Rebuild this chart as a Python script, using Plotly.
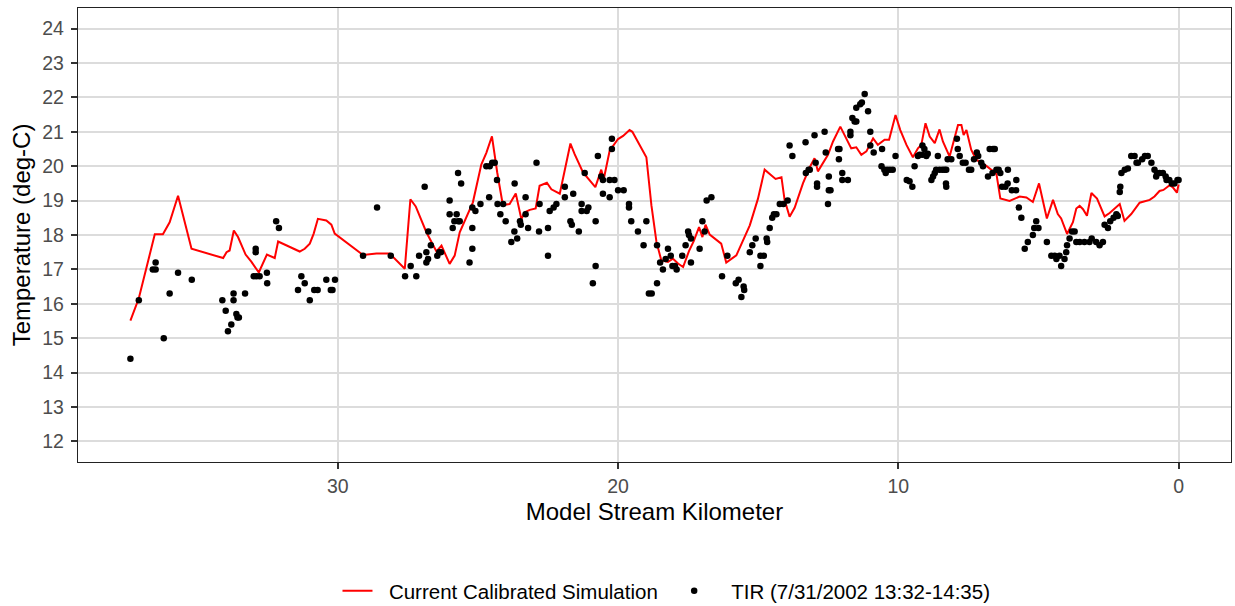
import plotly.graph_objects as go

# Simulation line (model stream km, temperature deg-C)
sim_km = [37.4, 37.1, 36.53, 36.24, 36.0, 35.7, 35.22, 34.09, 33.97, 33.86, 33.71, 33.56, 33.29, 33.08,
          32.82, 32.53, 32.25, 32.13, 31.36, 31.18, 31.0, 30.86, 30.71, 30.41, 30.23, 30.11, 29.1, 28.62,
          28.15, 27.61, 27.41, 27.22, 26.84, 26.48, 26.3, 26.01, 25.83, 25.65, 25.18, 24.88, 24.7, 24.5,
          24.31, 24.11, 23.87, 23.65, 23.45, 23.33, 23.15, 22.94, 22.8, 22.54, 22.38, 22.08, 21.7, 21.55,
          21.25, 20.81, 20.6, 20.51, 20.3, 20.0, 19.82, 19.59, 19.49, 19.23, 18.99, 18.81, 18.63, 18.46,
          18.22, 18.04, 17.86, 17.68, 17.47, 17.3, 17.11, 16.99, 16.88, 16.73, 16.32, 16.14, 15.78, 15.3,
          15.01, 14.77, 14.59, 14.38, 14.17, 14.06, 13.88, 13.7, 13.4, 13.16, 12.99, 12.87, 12.51, 12.33,
          12.07, 11.92, 11.68, 11.5, 11.32, 11.14, 10.9, 10.73, 10.49, 10.33, 10.1, 9.93, 9.71, 9.48, 9.3,
          9.18, 9.03, 8.88, 8.7, 8.53, 8.41, 8.17, 7.99, 7.87, 7.75, 7.67, 7.57, 7.4, 7.22, 6.86, 6.5, 6.36,
          6.03, 5.67, 5.43, 5.2, 4.98, 4.7, 4.48, 4.31, 4.19, 3.98, 3.77, 3.65, 3.53, 3.41, 3.27, 3.11,
          2.91, 2.64, 2.46, 2.22, 2.1, 1.93, 1.69, 1.39, 1.03, 0.86, 0.68, 0.54, 0.32, 0.2, 0.06, 0.0]
sim_temp = [15.51, 16.16, 18.02, 18.02, 18.37, 19.14, 17.6, 17.33, 17.5, 17.55, 18.13, 17.94, 17.43, 17.22,
            16.91, 17.43, 17.33, 17.81, 17.52, 17.6, 17.75, 18.04, 18.47, 18.42, 18.3, 18.04, 17.42, 17.46,
            17.46, 17.02, 19.04, 18.83, 18.08, 17.52, 17.69, 17.16, 17.4, 18.08, 18.95, 20.05, 20.39, 20.87,
            19.81, 18.87, 18.9, 19.21, 18.46, 18.66, 18.73, 18.77, 19.43, 19.52, 19.33, 19.2, 20.66, 20.35,
            19.82, 19.39, 19.9, 19.63, 20.45, 20.79, 20.88, 21.05, 21.0, 20.6, 20.26, 18.86, 17.8, 17.27,
            17.22, 17.31, 17.17, 17.07, 17.53, 17.82, 18.23, 17.94, 18.3, 18.01, 17.75, 17.2, 17.41, 18.28,
            19.05, 19.9, 19.78, 19.63, 19.68, 19.03, 18.53, 18.79, 19.51, 19.97, 20.23, 19.85, 20.33, 20.72,
            21.15, 20.91, 20.52, 20.55, 20.33, 20.43, 20.81, 20.62, 20.77, 20.77, 21.49, 21.05, 20.62, 20.26, 20.52,
            20.62, 21.25, 20.86, 20.67, 21.07, 20.72, 20.28, 20.86, 21.2, 21.2, 20.91, 21.05, 20.48, 20.19, 20.01, 19.78, 19.06,
            18.99, 19.12, 19.09, 18.96, 19.5, 18.48, 19.02, 18.61, 18.48, 18.03, 18.37, 18.77, 18.85, 18.75, 18.56, 19.22,
            19.06, 18.54, 18.64, 18.83, 18.9, 18.41, 18.61, 18.94, 19.02, 19.12, 19.28, 19.31, 19.45, 19.38, 19.23, 19.47]

# TIR observations (model stream km, temperature deg-C)
tir_km = [37.4, 37.1, 36.6, 36.5, 36.5, 36.21, 36.0, 35.7, 35.21, 34.12, 34.0, 33.92, 33.8, 33.72, 33.72,
          33.62, 33.58, 33.53, 33.31, 33.0, 32.9, 32.79, 32.93, 32.93, 32.53, 32.52, 32.2, 32.1, 31.42, 31.3,
          31.18, 31.0, 30.84, 30.72, 30.41, 30.25, 30.19, 30.1,
          29.1, 28.6, 28.11, 27.6, 27.4, 27.2, 27.1, 26.9, 26.84, 26.78, 26.77, 26.84, 26.68, 26.45, 26.38,
          26.32, 26.01, 26.01, 25.9, 25.84, 25.76, 25.7, 25.65, 25.71, 25.6, 25.3, 25.2, 25.2, 25.2, 25.09,
          24.91, 24.7, 24.58, 24.49, 24.4, 24.6, 24.32, 24.3, 24.1, 24.2, 24.01, 23.81, 23.7, 23.69, 23.6,
          23.5, 23.47, 23.3, 23.3, 23.21, 22.91, 22.82, 22.8, 22.5, 22.5, 22.44, 22.3, 22.2,
          21.9, 21.9, 21.6, 21.7, 21.65, 21.4, 21.3, 21.3, 21.12, 21.06, 21.19, 20.8, 20.9, 20.8, 20.72,
          20.6, 20.54, 20.3, 20.13, 20.54, 20.3, 20.22, 20.22, 20.0, 19.8, 19.61, 19.61, 19.53, 19.29, 19.09,
          18.99, 18.61, 18.9, 18.8, 18.61, 18.5, 18.4, 18.3, 18.22, 18.12, 18.06, 17.97, 17.91, 17.71, 17.59,
          17.5, 17.47, 17.4, 17.4, 17.09, 16.99, 16.91, 16.84, 16.67, 16.29, 16.1, 15.8, 15.7, 15.52, 15.5,
          15.6, 15.3, 15.21, 15.09, 14.92, 14.8, 14.92, 14.7, 14.68, 14.59, 14.5, 14.44, 14.35, 14.23,
          14.1, 13.95, 13.88, 13.78, 13.3, 13.2, 13.16, 13.31, 12.99, 12.95, 12.9, 12.9, 12.63, 12.59, 12.48,
          12.48, 12.42, 12.51, 12.15, 12.1, 12.12, 12.0, 12.0, 11.8, 11.71, 11.71, 11.64, 11.56, 11.5, 11.5,
          11.36, 11.3, 11.2, 11.08, 11.0, 11.0, 10.88, 10.58, 10.6, 10.5, 10.45, 10.4, 10.3, 10.2, 10.1,
          9.7, 9.6, 9.5, 9.42, 9.3, 9.24, 9.14, 9.07, 9.0, 8.95, 9.14, 8.82, 8.76, 8.7, 8.65, 8.59, 8.53,
          8.43, 8.35, 8.29, 8.3, 8.29, 8.24, 8.11, 7.91, 7.88, 7.81, 7.7, 7.6, 7.48, 7.4, 7.3, 7.2, 7.15,
          7.04, 6.98, 6.8, 6.74, 6.62, 6.56, 6.5,
          6.64, 6.42, 6.36, 6.09, 6.3, 6.18, 6.1, 5.95, 5.8, 5.79, 5.7, 5.61, 5.08, 5.15, 5.0, 5.2, 5.38,
          5.49, 4.7, 4.54, 4.42, 4.36, 4.25, 4.19, 4.07, 4.01, 3.98, 3.89, 3.8, 3.71, 3.65, 3.53, 3.36,
          3.18, 3.1, 2.94, 2.82, 2.7, 2.64, 2.52, 2.44, 2.32, 2.22, 2.17, 2.1, 2.08, 2.04, 1.92, 1.81,
          1.69, 1.57, 1.5, 1.45, 1.3, 1.2, 1.1, 0.97, 0.86, 0.77, 0.8, 0.68, 0.56, 0.46, 0.43, 0.33, 0.24,
          0.15, 0.04, 0.0]
tir_temp = [14.4, 16.1, 17.0, 17.0, 17.2, 15.0, 16.3, 16.9, 16.7, 16.1, 15.8, 15.2, 15.4, 16.3, 16.1,
            15.7, 15.6, 15.6, 16.3, 16.8, 16.8, 16.8, 17.6, 17.5, 16.9, 16.6, 18.4, 18.2, 16.4, 16.8,
            16.6, 16.1, 16.4, 16.4, 16.7, 16.4, 16.4, 16.7,
            17.4, 18.8, 17.4, 16.8, 17.1, 16.8, 17.4, 19.4, 17.2, 17.3, 18.1, 17.5, 17.7, 17.4, 17.5,
            17.5, 19.0, 18.6, 18.2, 18.4, 18.6, 18.4, 18.4, 19.8, 19.5, 17.2, 17.6, 18.2, 18.8, 18.7,
            18.9, 20.0, 20.0, 20.1, 20.1, 19.1, 19.6, 18.9, 18.9, 18.6, 18.4, 17.8, 18.1, 19.5, 17.9,
            18.4, 18.3, 19.1, 18.6, 18.2, 20.1, 18.1, 18.9, 17.4, 18.2, 18.7, 18.8, 18.9,
            19.4, 19.1, 19.2, 18.4, 18.3, 18.1, 18.9, 18.7, 18.7, 18.8, 19.8, 17.1, 16.6, 18.4, 20.3,
            19.7, 19.6, 19.6, 19.6, 19.2, 19.1, 20.8, 20.5, 19.3, 19.3, 18.9, 18.8, 18.4, 18.1, 17.7,
            18.4, 17.7, 16.3, 16.3, 16.6, 17.2, 17.0, 17.3, 17.6, 17.4, 17.1, 17.1, 17.0, 17.4, 17.7,
            18.1, 18.0, 17.9, 17.2, 17.6, 18.4, 18.1, 19.0, 19.1, 16.8, 17.4, 16.6, 16.7, 16.5, 16.4,
            16.2, 17.5, 17.7, 17.9, 17.4, 17.4, 17.1, 17.9, 17.8, 18.2, 18.5, 18.6, 18.6, 18.9,
            18.9, 19.0, 20.6, 20.3, 19.8, 19.9, 19.9, 20.7, 20.9, 20.1, 19.5, 19.4, 21.0, 20.4, 19.7,
            19.3, 19.3, 18.9, 20.5, 20.5, 20.2, 19.8, 19.6, 19.6, 21.0, 20.9, 21.4, 21.3, 21.3, 21.7,
            21.8, 21.85, 22.1, 21.6, 21.0, 20.6, 20.4, 20.5, 20.0, 19.9, 19.8, 19.9, 19.9, 19.9, 20.3,
            19.6, 19.56, 19.4, 20.0, 20.3, 20.33, 20.33, 20.5, 20.3, 20.36, 20.6, 19.6, 19.7, 19.8, 19.9, 20.3, 19.9,
            19.9, 19.9, 19.9, 19.5, 19.4, 20.2, 20.2, 20.8, 20.5, 20.3, 20.1, 20.1, 19.9, 19.9, 20.2, 20.4, 20.3,
            20.1, 20.0, 19.7, 20.5, 20.5, 20.5, 19.9,
            19.8, 19.9, 19.8, 19.9, 19.4, 19.4, 19.5, 19.3, 19.3, 19.6, 18.8, 18.5, 18.4, 18.2, 18.2, 18.0, 17.8,
            17.6, 17.8, 17.4, 17.4, 17.3, 17.4, 17.1, 17.3, 17.5, 17.7, 17.9, 18.1, 18.1, 17.8, 17.8, 17.8,
            17.8, 17.9, 17.8, 17.7, 17.8, 18.3, 18.2, 18.4, 18.5, 18.6, 18.55, 19.25, 19.4, 19.8, 19.9, 19.93,
            20.3, 20.3, 20.1, 20.1, 20.2, 20.3, 20.3, 20.1, 19.9, 19.8, 19.7, 19.8, 19.8, 19.7, 19.6, 19.6, 19.5,
            19.5, 19.6, 19.6]

x_ticks = [30, 20, 10, 0]
y_ticks = list(range(12, 25))

sim_label = "Current Calibrated Simulation"
tir_label = "TIR (7/31/2002 13:32-14:35)"

FONT = "Liberation Sans, Arial, sans-serif"
GRID = "#DCDCDC"
NB = "\u00a0"

fig = go.Figure()
fig.add_trace(go.Scatter(
    x=sim_km, y=sim_temp, mode="lines", name=NB * 2 + sim_label + NB * 2,
    line=dict(color="#FF0000", width=2),
))
fig.add_trace(go.Scatter(
    x=tir_km, y=tir_temp, mode="markers", name=NB * 3 + tir_label,
    marker=dict(color="black", size=6.5),
))

axis_common = dict(
    showgrid=True, gridcolor=GRID, gridwidth=2, zeroline=False,
    showline=True, linecolor="#222222", linewidth=1.3, mirror=True,
    ticks="outside", ticklen=6, tickwidth=1.5, tickcolor="#333333",
    tickfont=dict(family=FONT, size=19.5, color="#4D4D4D"),
)

fig.update_layout(
    width=1235, height=606,
    margin=dict(l=78, r=4, t=8, b=144),
    paper_bgcolor="white", plot_bgcolor="white",
    font=dict(family=FONT, color="black"),
    xaxis=dict(
        range=[39.27, -1.87], tickvals=x_ticks,
        title=dict(text="Model Stream Kilometer", font=dict(family=FONT, size=24, color="black"), standoff=7),
        **axis_common,
    ),
    yaxis=dict(
        range=[11.4, 24.6], tickvals=y_ticks, ticklabelstandoff=3,
        title=dict(text="Temperature (deg-C)", font=dict(family=FONT, size=24, color="black"), standoff=4),
        **axis_common,
    ),
    showlegend=True,
    legend=dict(
        orientation="h", x=0.5104, xanchor="center",
        yref="container", y=(606 - 591) / 606, yanchor="middle",
        font=dict(family=FONT, size=20.5, color="black"),
        itemwidth=30, bgcolor="rgba(0,0,0,0)",
    ),
)

fig.write_html("out.html", config={"displayModeBar": False},
               post_script="document.body.style.margin='0';")
